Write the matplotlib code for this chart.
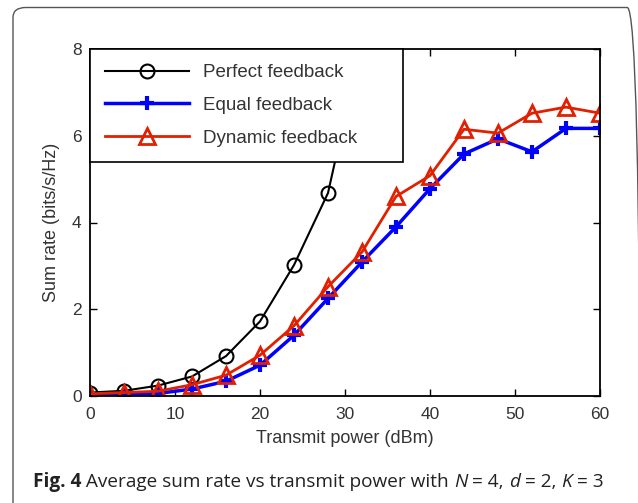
import matplotlib
matplotlib.use("Agg")
import matplotlib.pyplot as plt
from matplotlib.patches import FancyBboxPatch

# ---- data ----
power = [0, 4, 8, 12, 16, 20, 24, 28, 32, 36, 40, 44, 48, 52, 56, 60]
perfect_x = [0, 4, 8, 12, 16, 20, 24, 28, 32]
perfect = [0.08, 0.12, 0.24, 0.45, 0.92, 1.72, 3.02, 4.68, 8.2]
equal = [0.02, 0.03, 0.06, 0.16, 0.34, 0.71, 1.40, 2.25, 3.09, 3.90, 4.78, 5.58, 5.93, 5.63, 6.17, 6.17]
dynamic = [0.05, 0.08, 0.11, 0.26, 0.48, 0.94, 1.62, 2.52, 3.32, 4.60, 5.08, 6.15, 6.06, 6.52, 6.66, 6.52]
xticks = [0, 10, 20, 30, 40, 50, 60]
yticks = [0, 2, 4, 6, 8]
labels = ["Perfect feedback", "Equal feedback", "Dynamic feedback"]
caption = [("Fig. 4", 'bold', 'normal'),
           (" Average sum rate vs transmit power with ", 'normal', 'normal'),
           ("N", 'normal', 'italic'), (" = 4, ", 'normal', 'normal'),
           ("d", 'normal', 'italic'), (" = 2, ", 'normal', 'normal'),
           ("K", 'normal', 'italic'), (" = 3", 'normal', 'normal')]

plt.rcParams['font.family'] = ['Liberation Sans', 'DejaVu Sans']

fig = plt.figure(figsize=(6.38, 5.03), dpi=100)
ax = fig.add_axes([90/638, 1-396/503, 510/638, 347/503])

tc = '#333333'
ax.plot(perfect_x, perfect, color='black', lw=1.5, marker='o', ms=10,
        mfc='none', mec='black', mew=1.5, label=labels[0])
ax.plot(power, equal, color='#0000ff', lw=2.5, marker='+', ms=10,
        mew=3, mec='#0000ff', label=labels[1])
ax.plot(power, dynamic, color='#e02000', lw=2, marker='^', ms=11,
        mfc='none', mec='#e02000', mew=2, label=labels[2])

ax.set_xlim(0, 60)
ax.set_ylim(0, 8)
ax.set_xticks(xticks)
ax.set_yticks(yticks)
ax.tick_params(direction='in', length=5, width=1, top=True, right=True,
               labelsize=12.5, labelcolor=tc)
ax.tick_params(axis='x', pad=8)
ax.tick_params(axis='y', pad=6)
for s in ax.spines.values():
    s.set_linewidth(1.3)
ax.set_xlabel("Transmit power (dBm)", fontsize=13, color=tc, labelpad=6)
ax.set_ylabel("Sum rate (bits/s/Hz)", fontsize=13, color=tc, labelpad=9)

leg = ax.legend(loc='upper left', bbox_to_anchor=(0, 0, 313/510, 1),
                mode='expand', borderaxespad=0,
                fancybox=False, framealpha=1, edgecolor='black', fontsize=13.5,
                handlelength=4.5, handletextpad=0.75, labelspacing=0.84,
                borderpad=0.8)
leg.get_frame().set_linewidth(1.2)
for t in leg.get_texts():
    t.set_color(tc)

# outer frame
frame = FancyBboxPatch((13/638, -0.05), (640-13)/638, (503-7.5)/503 + 0.05,
                       boxstyle="round,pad=0,rounding_size=0.02",
                       transform=fig.transFigure, fill=False,
                       edgecolor='#555555', lw=1.0, clip_on=False)
fig.patches.append(frame)

# caption built from pieces
fig.canvas.draw()
renderer = fig.canvas.get_renderer()
xpix = 33.0
ypos = 1 - 482/503
for txt, weight, style in caption:
    t = fig.text(0, ypos, txt, fontsize=13.7, family='Open Sans', weight=weight,
                 style=style, color='#222222', va='center', ha='left')
    t.set_x(xpix / 638)
    w = t.get_window_extent(renderer).width
    xpix += w

fig.savefig("out.png", dpi=100)
